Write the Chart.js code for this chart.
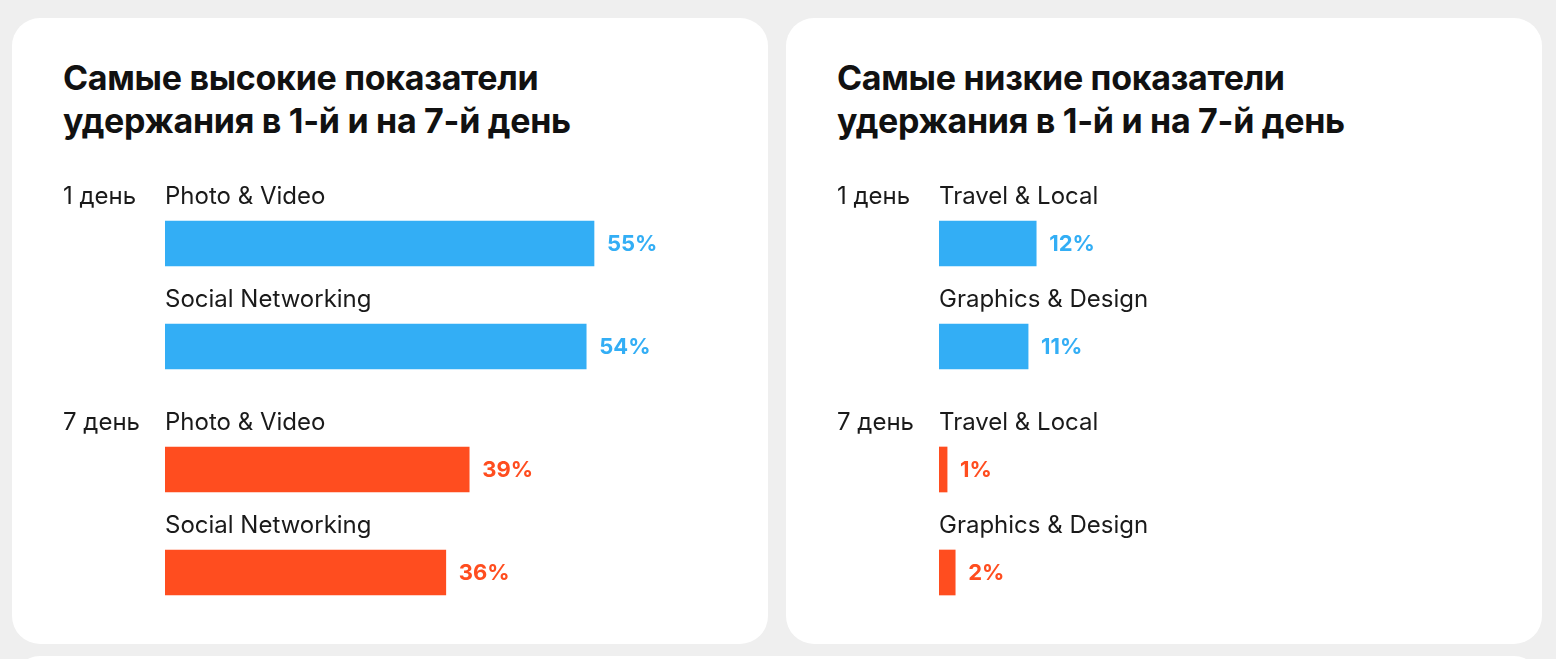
<!DOCTYPE html>
<html>
<head>
<meta charset="utf-8">
<script src="https://cdn.jsdelivr.net/npm/chart.js@4"></script>
<style>
  body { margin: 0; width: 1556px; height: 659px; background: #efefef; overflow: hidden; font-family: Inter, sans-serif; }
  .card { position: absolute; top: 18px; width: 756px; height: 626px; background: #fff; border-radius: 28px; }
  .card h2 { position: absolute; left: 51px; top: 38px; margin: 0; font-size: 34px; line-height: 43px; font-weight: 700; color: #111; letter-spacing: -0.3px; }
  .card canvas { position: absolute; left: 0; }
  .next { position: absolute; top: 656px; left: 12px; width: 1530px; height: 100px; background: #fff; border-radius: 28px; }
</style>
</head>
<body>
<div class="card" style="left:12px">
  <h2>Самые высокие показатели<br>удержания в 1-й и на 7-й день</h2>
  <canvas id="high1" width="756" height="266" style="top:114px"></canvas>
  <canvas id="high7" width="756" height="266" style="top:340px"></canvas>
</div>
<div class="card" style="left:786px">
  <h2>Самые низкие показатели<br>удержания в 1-й и на 7-й день</h2>
  <canvas id="low1" width="756" height="266" style="top:114px"></canvas>
  <canvas id="low7" width="756" height="266" style="top:340px"></canvas>
</div>
<div class="next"></div>
<script>
var groupLabels = ['1 день', '7 день'];

var highCategories = ['Photo & Video', 'Social Networking'];
var highDay1 = [55, 54];
var highDay7 = [39, 36];

var lowCategories = ['Travel & Local', 'Graphics & Design'];
var lowDay1 = [12, 11];
var lowDay7 = [1, 2];

var blue = '#33aef5';
var red = '#ff4d1f';

// labels above bars, values right of bars, group name on the left
var barLabels = {
  id: 'barLabels',
  afterDatasetsDraw: function(chart, args, opts) {
    var c = chart.ctx;
    var area = chart.chartArea;
    var meta = chart.getDatasetMeta(0);
    var ds = chart.data.datasets[0];
    c.save();
    c.textBaseline = 'middle';
    c.font = '400 24px Inter';
    c.fillStyle = '#1a1a1a';
    c.fillText(opts.group, area.left - 102, meta.data[0].y - 47);
    meta.data.forEach(function(bar, i) {
      c.font = '400 24px Inter';
      c.fillStyle = '#1a1a1a';
      c.fillText(chart.data.labels[i], area.left, bar.y - 47);
      c.font = '700 22px Inter';
      c.fillStyle = ds.backgroundColor;
      c.fillText(ds.data[i] + '%', bar.x + 13, bar.y + 1);
    });
    c.restore();
  }
};

function makeChart(id, labels, values, color, group, max, width) {
  return new Chart(document.getElementById(id), {
    type: 'bar',
    data: {
      labels: labels,
      datasets: [{ data: values, backgroundColor: color, barThickness: 45, borderWidth: 0 }]
    },
    options: {
      indexAxis: 'y',
      responsive: false,
      animation: false,
      layout: { padding: { top: 60, bottom: 0, left: 153, right: 756 - 153 - width } },
      scales: {
        x: { display: false, min: 0, max: max },
        y: { display: false }
      },
      plugins: {
        legend: { display: false },
        tooltip: { enabled: false },
        barLabels: { group: group }
      }
    },
    plugins: [barLabels]
  });
}

makeChart('high1', highCategories, highDay1, blue, groupLabels[0], 70, 546);
makeChart('high7', highCategories, highDay7, red, groupLabels[1], 70, 546);
makeChart('low1', lowCategories, lowDay1, blue, groupLabels[0], 70, 567);
makeChart('low7', lowCategories, lowDay7, red, groupLabels[1], 70, 567);
</script>
</body>
</html>
